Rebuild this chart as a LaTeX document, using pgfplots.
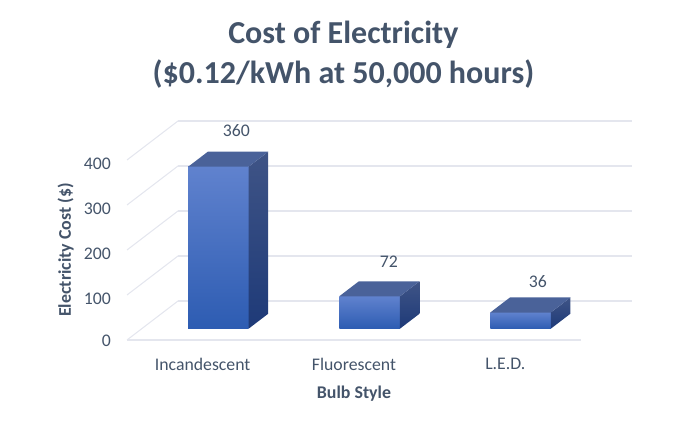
\documentclass[border=0pt]{standalone}
\usepackage{fontspec}
\setmainfont{Carlito}
\usepackage{pgfplots}
\pgfplotsset{compat=1.18}
\definecolor{txt}{HTML}{44546A}
\definecolor{gridc}{HTML}{E4E6EE}
\definecolor{frontT}{HTML}{6082CE}
\definecolor{frontB}{HTML}{2D5CB2}
\definecolor{sideT}{HTML}{3F5486}
\definecolor{sideB}{HTML}{1E3A78}
\definecolor{topc}{HTML}{4A6299}

% one bar: x from #1 to #2, height #3
\newcommand{\threedbar}[3]{
  \addplot3[draw=none, top color=frontT, bottom color=frontB]
    coordinates {(#1,0.29,0) (#2,0.29,0) (#2,0.29,#3) (#1,0.29,#3) (#1,0.29,0)};
  \addplot3[draw=none, top color=sideT, bottom color=sideB]
    coordinates {(#2,0.29,0) (#2,0.675,0) (#2,0.675,#3) (#2,0.29,#3) (#2,0.29,0)};
  \addplot3[draw=none, fill=topc]
    coordinates {(#1,0.29,#3) (#2,0.29,#3) (#2,0.675,#3) (#1,0.675,#3) (#1,0.29,#3)};
}

\begin{document}
\begin{tikzpicture}
  \begin{axis}[
      x={(113.5pt,0pt)}, y={(38.25pt,29.25pt)}, z={(0pt,0.3375pt)},
      xmin=-0.5, xmax=2.5, ymin=0, ymax=1, zmin=0, zmax=400,
      clip=false,
      axis line style={draw=none},
      tick style={draw=none},
      xtick={0,1,2}, xticklabels={Incandescent,Fluorescent,L.E.D.},
      ytick=\empty,
      ztick={0,100,200,300,400},
      zmajorgrids,
      grid style={gridc, line width=0.8pt},
      /pgf/number format/assume math mode=true,
      tick label style={font=\fontsize{13.3}{15}\selectfont, text=txt},
      xticklabel style={anchor=center, yshift=-18pt},
      zticklabel style={xshift=-8.6pt, yshift=1.5pt},
      title={Cost of Electricity\\(\$0.12/kWh at 50,000 hours)},
      title style={at={(axis cs:0.93,0,615.6)}, anchor=center, align=center, text=txt,
        font=\fontsize{24}{30}\selectfont\bfseries},
      xlabel={Bulb Style},
      xlabel style={at={(axis cs:1.0,0,-120)}, anchor=center, text=txt,
        font=\fontsize{13.4}{15}\selectfont\bfseries},
      zlabel={Electricity Cost (\$)},
      zlabel style={at={(axis cs:-0.905,0,200)}, anchor=center, rotate=0, text=txt,
        font=\fontsize{13.4}{15}\selectfont\bfseries},
      after end axis/.code={
        \path (axis cs:-1.339,0,755.6) (axis cs:3.194,0,-195.6);
      },
    ]
    \addplot3[gridc, line width=1.1pt] coordinates {(-0.5,0,0) (2.5,0,0)};
    \threedbar{-0.193}{0.206}{360}
    \threedbar{0.805}{1.206}{72}
    \threedbar{1.803}{2.203}{36}
    \addplot3[draw=none, mark=none, point meta=explicit,
      nodes near coords, nodes near coords align={anchor=center},
      every node near coord/.append style={text=txt, font=\fontsize{13.3}{15}\selectfont,
        xshift=7pt, yshift=21pt, /pgf/number format/assume math mode=true}]
      coordinates {(0,0.48,362) [360] (1.007,0.48,70) [72] (1.992,0.48,27) [36]};
  \end{axis}
\end{tikzpicture}
\end{document}
